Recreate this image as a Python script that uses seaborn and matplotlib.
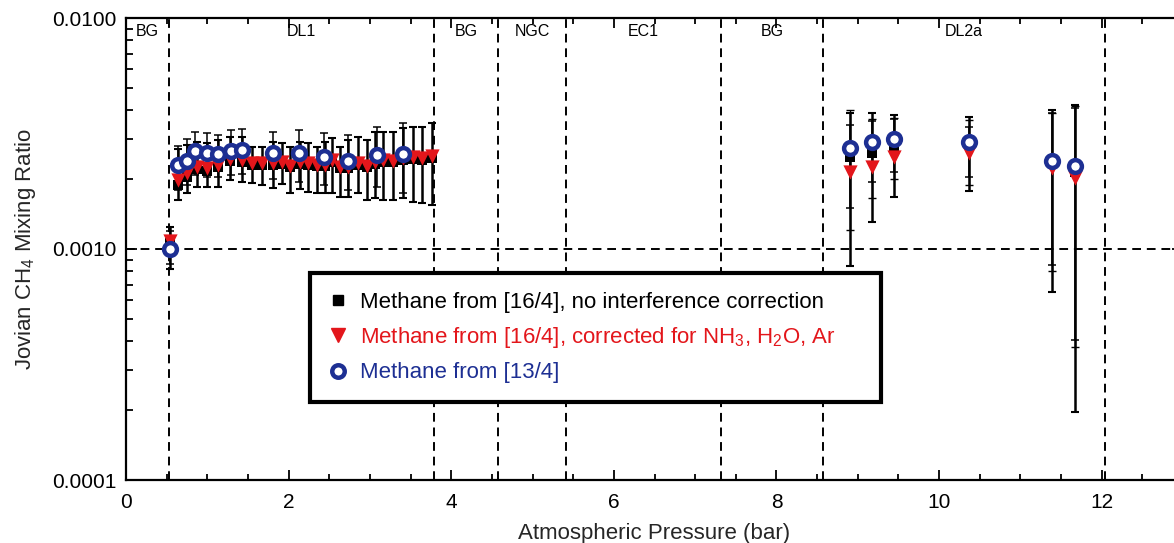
import matplotlib
matplotlib.use("Agg")
import matplotlib.pyplot as plt
from matplotlib.lines import Line2D
from matplotlib.ticker import MultipleLocator, LogLocator, NullFormatter
import numpy as np
import pandas as pd
import seaborn as sns

# ---------------- data ----------------
# background point
bg_x = [0.54]
bg_black = [0.00106]
bg_black_lo = [0.00082]
bg_black_hi = [0.00125]
bg_red = [0.00108]
bg_blue = [0.00100]
bg_blue_lo = [0.00086]
bg_blue_hi = [0.00120]

# DL1 region, [16/4] series
dl1_x = [0.64, 0.75, 0.87, 1.00, 1.13, 1.28, 1.43, 1.55, 1.67, 1.81, 1.92, 2.02, 2.14, 2.24,
         2.35, 2.45, 2.53, 2.63, 2.73, 2.85, 2.96, 3.06, 3.16, 3.28, 3.41, 3.53, 3.64, 3.76]
dl1_red = [0.00199, 0.00213, 0.00227, 0.00224, 0.00231, 0.00245, 0.00243, 0.00236, 0.00236, 0.00236,
           0.00238, 0.00229, 0.00238, 0.00236, 0.00231, 0.00231, 0.00243, 0.00227, 0.00227, 0.00236,
           0.00229, 0.00238, 0.00243, 0.00240, 0.00247, 0.00250, 0.00247, 0.00252]
dl1_black = [0.00190, 0.00205, 0.00222, 0.00218, 0.00226, 0.00240, 0.00238, 0.00232, 0.00232, 0.00231,
             0.00233, 0.00226, 0.00234, 0.00232, 0.00228, 0.00228, 0.00238, 0.00224, 0.00224, 0.00232,
             0.00226, 0.00234, 0.00239, 0.00237, 0.00243, 0.00246, 0.00243, 0.00248]
dl1_black_hi = [0.00270, 0.00282, 0.00290, 0.00288, 0.00295, 0.00305, 0.00305, 0.00276, 0.00276, 0.00290,
                0.00288, 0.00276, 0.00290, 0.00288, 0.00276, 0.00290, 0.00302, 0.00276, 0.00295, 0.00305,
                0.00297, 0.00320, 0.00321, 0.00321, 0.00335, 0.00338, 0.00338, 0.00351]
dl1_black_lo = [0.00163, 0.00175, 0.00185, 0.00185, 0.00185, 0.00199, 0.00195, 0.00193, 0.00189, 0.00184,
                0.00191, 0.00175, 0.00182, 0.00177, 0.00175, 0.00175, 0.00175, 0.00168, 0.00168, 0.00175,
                0.00163, 0.00166, 0.00163, 0.00163, 0.00166, 0.00160, 0.00158, 0.00155]

# DL1 region, [13/4] series
dl1_blue_x = [0.64, 0.75, 0.85, 1.00, 1.13, 1.29, 1.43, 1.81, 2.13, 2.43, 2.73, 3.09, 3.41]
dl1_blue = [0.00231, 0.00240, 0.00266, 0.00260, 0.00258, 0.00266, 0.00268, 0.00260, 0.00260,
            0.00250, 0.00240, 0.00255, 0.00258]
dl1_blue_hi = [0.00279, 0.00300, 0.00321, 0.00318, 0.00312, 0.00328, 0.00331, 0.00321, 0.00328,
               0.00318, 0.00312, 0.00338, 0.00351]
dl1_blue_lo = [0.00180, 0.00190, 0.00210, 0.00205, 0.00205, 0.00210, 0.00212, 0.00200, 0.00195,
               0.00190, 0.00180, 0.00185, 0.00175]

# DL2a region
dl2_x = [8.91, 9.18, 9.45, 10.37, 11.39, 11.67]
dl2_blue = [0.00274, 0.00290, 0.00300, 0.00290, 0.00240, 0.00229]
dl2_black = [0.00250, 0.00260, 0.00277, 0.00285, 0.00235, 0.00216]
dl2_red = [0.00216, 0.00227, 0.00250, 0.00260, 0.00224, 0.00203]
dl2_black_lo = [0.00084, 0.00131, 0.00168, 0.00178, 0.00065, 0.000197]
dl2_black_hi = [0.00388, 0.00388, 0.00380, 0.00373, 0.00400, 0.00420]
dl2_blue_lo = [0.00150, 0.00195, 0.00216, 0.00205, 0.00085, 0.000404]
dl2_blue_hi = [0.00344, 0.00358, 0.00366, 0.00338, 0.00388, 0.00408]
dl2_red_lo = [0.00121, 0.00166, 0.00201, 0.00190, 0.00080, 0.000375]
dl2_red_hi = [0.00400, 0.00366, 0.00370, 0.00360, 0.00388, 0.00415]

# region boundaries and labels
boundaries = [0.53, 3.79, 4.58, 5.41, 7.32, 8.57, 12.04]
region_edges = [0.0, 0.53, 3.79, 4.58, 5.41, 7.32, 8.57, 12.04]
region_labels = ["BG", "DL1", "BG", "NGC", "EC1", "BG", "DL2a"]

y_ticks = [0.0001, 0.001, 0.01]
y_tick_labels = ["0.0001", "0.0010", "0.0100"]
x_ticks = [0, 2, 4, 6, 8, 10, 12]

legend_labels = ["Methane from [16/4], no interference correction",
                 "Methane from [16/4], corrected for NH$_3$, H$_2$O, Ar",
                 "Methane from [13/4]"]

RED = "#e3161b"
BLUE = "#1d2f93"
BLACK = "#000000"

# ---------------- build tables ----------------
black_x = bg_x + dl1_x + dl2_x
black_y = bg_black + dl1_black + dl2_black
black_lo = bg_black_lo + dl1_black_lo + dl2_black_lo
black_hi = bg_black_hi + dl1_black_hi + dl2_black_hi
red_x = bg_x + dl1_x + dl2_x
red_y = bg_red + dl1_red + dl2_red
blue_x = bg_x + dl1_blue_x + dl2_x
blue_y = bg_blue + dl1_blue + dl2_blue
blue_lo = bg_blue_lo + dl1_blue_lo + dl2_blue_lo
blue_hi = bg_blue_hi + dl1_blue_hi + dl2_blue_hi

df_black = pd.DataFrame({"p": black_x, "ch4": black_y, "lo": black_lo, "hi": black_hi})
df_red = pd.DataFrame({"p": red_x, "ch4": red_y})
df_blue = pd.DataFrame({"p": blue_x, "ch4": blue_y, "lo": blue_lo, "hi": blue_hi})
df_red2 = pd.DataFrame({"p": dl2_x, "ch4": dl2_red, "lo": dl2_red_lo, "hi": dl2_red_hi})

# ---------------- figure ----------------
sns.set_theme(style="ticks")
plt.rcParams["font.family"] = ["Liberation Sans", "DejaVu Sans"]
plt.rcParams["mathtext.fontset"] = "custom"
plt.rcParams["mathtext.rm"] = "Liberation Sans"
plt.rcParams["mathtext.it"] = "Liberation Sans:italic"

fig = plt.figure(figsize=(11.74, 5.43), dpi=100)
ax = fig.add_axes([126 / 1174, 63 / 543, 1057 / 1174, 462 / 543])
ax.set_yscale("log")
ax.set_xlim(0, 13)
ax.set_ylim(1e-4, 1e-2)

# reference lines
for b in boundaries:
    ax.axvline(b, color="black", lw=1.4, ls=(0, (4.5, 3)), zorder=1)
ax.axhline(0.001, color="black", lw=1.4, ls=(0, (4.5, 3)), zorder=1)

# error bars
ax.errorbar(df_red2["p"], df_red2["ch4"],
            yerr=[df_red2["ch4"] - df_red2["lo"], df_red2["hi"] - df_red2["ch4"]],
            fmt="none", ecolor="black", elinewidth=1.0, capsize=3, capthick=1.0, zorder=2)
ax.errorbar(df_blue["p"], df_blue["ch4"],
            yerr=[df_blue["ch4"] - df_blue["lo"], df_blue["hi"] - df_blue["ch4"]],
            fmt="none", ecolor="black", elinewidth=1.1, capsize=3, capthick=1.1, zorder=2)
ax.errorbar(df_black["p"], df_black["ch4"],
            yerr=[df_black["ch4"] - df_black["lo"], df_black["hi"] - df_black["ch4"]],
            fmt="none", ecolor="black", elinewidth=1.8, capsize=3, capthick=1.5, zorder=2)

# markers
sns.scatterplot(data=df_black, x="p", y="ch4", ax=ax, marker="s", s=50, color=BLACK,
                edgecolor=BLACK, linewidth=0, zorder=3, legend=False)
sns.scatterplot(data=df_red, x="p", y="ch4", ax=ax, marker="v", s=105, color=RED,
                edgecolor=RED, linewidth=0, zorder=4, legend=False)
sns.scatterplot(data=df_blue, x="p", y="ch4", ax=ax, marker="o", s=85, color="white",
                edgecolor=BLUE, linewidth=3.2, zorder=5, legend=False)

# region labels
for i, lab in enumerate(region_labels):
    xc = 0.5 * (region_edges[i] + region_edges[i + 1])
    ax.text(xc, 0.988, lab, transform=ax.get_xaxis_transform(), ha="center", va="top",
            fontsize=11.5, color="black")

# axes styling
ax.set_yticks(y_ticks)
ax.set_yticklabels(y_tick_labels)
ax.yaxis.set_minor_locator(LogLocator(base=10, subs=np.arange(2, 10)))
ax.yaxis.set_minor_formatter(NullFormatter())
ax.set_xticks(x_ticks)
ax.xaxis.set_minor_locator(MultipleLocator(0.5))
ax.tick_params(axis="both", which="both", direction="in", top=True, right=True,
               colors="black", labelsize=15, width=1.3)
ax.tick_params(axis="x", which="major", length=7, pad=9)
ax.tick_params(axis="x", which="minor", length=4)
ax.tick_params(axis="y", which="major", length=8, pad=7)
ax.tick_params(axis="y", which="minor", length=5)
for sp in ax.spines.values():
    sp.set_linewidth(1.6)
    sp.set_color("black")

ax.set_xlabel("Atmospheric Pressure (bar)", fontsize=16, labelpad=8)
ax.set_ylabel("Jovian CH$_4$ Mixing Ratio", fontsize=16, labelpad=10)

# legend
handles = [
    Line2D([], [], marker="s", color=BLACK, ls="none", markersize=7),
    Line2D([], [], marker="v", color=RED, ls="none", markersize=9.5),
    Line2D([], [], marker="o", markerfacecolor="white", markeredgecolor=BLUE,
           markeredgewidth=3.2, ls="none", markersize=9),
]
leg = ax.legend(handles, legend_labels, loc="upper left",
                bbox_to_anchor=(0.174, 0.448, 0.54, 0.0), mode="expand",
                fontsize=16, frameon=True, fancybox=False, edgecolor="black",
                framealpha=1, borderpad=0.85, labelspacing=0.55, handlelength=0.8,
                handletextpad=0.6, borderaxespad=0)
leg.get_frame().set_linewidth(3)
for t, c in zip(leg.get_texts(), [BLACK, RED, BLUE]):
    t.set_color(c)
leg.set_zorder(10)

fig.savefig("out.png", dpi=100)
